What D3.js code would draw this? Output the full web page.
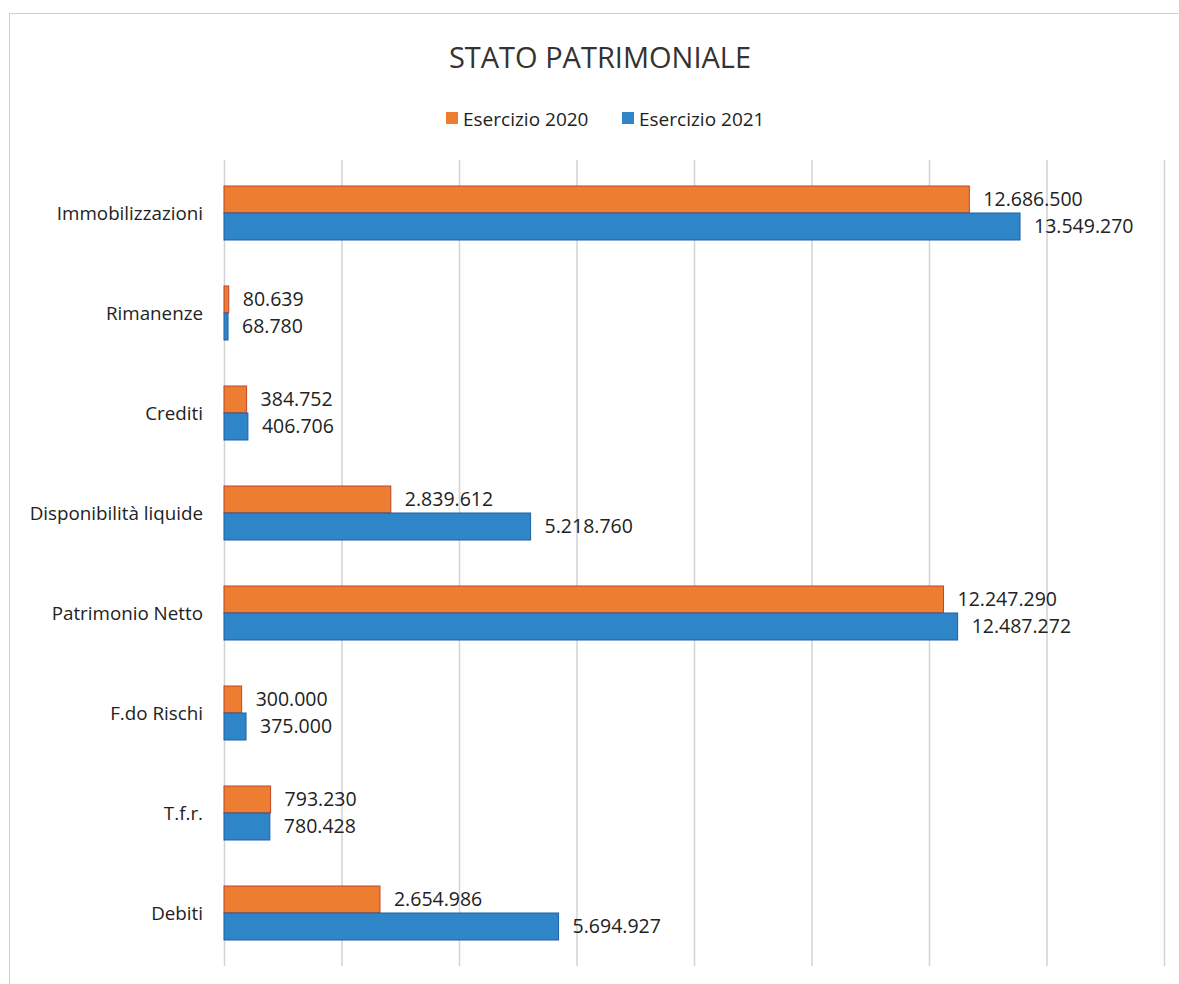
<!DOCTYPE html>
<html>
<head>
<meta charset="utf-8">
<script src="https://cdn.jsdelivr.net/npm/d3@7"></script>
<style>
  body { margin: 0; background: #fff; }
  svg text { font-family: "Open Sans", sans-serif; fill: #222; }
</style>
</head>
<body>
<div id="chart"></div>
<script>
const categories = ["Immobilizzazioni", "Rimanenze", "Crediti", "Disponibilità liquide", "Patrimonio Netto", "F.do Rischi", "T.f.r.", "Debiti"];
const series2020 = [12686500, 80639, 384752, 2839612, 12247290, 300000, 793230, 2654986];
const series2021 = [13549270, 68780, 406706, 5218760, 12487272, 375000, 780428, 5694927];
const seriesNames = ["Esercizio 2020", "Esercizio 2021"];
const gridTicks = [0, 2000000, 4000000, 6000000, 8000000, 10000000, 12000000, 14000000, 16000000];

const width = 1179, height = 984;
const colors = ["#ED7D31", "#2E86C8"];
const strokes = ["#C0442A", "#1F5FA8"];

const svg = d3.select("#chart").append("svg")
  .attr("width", width)
  .attr("height", height);

// outer frame
svg.append("rect")
  .attr("x", 9.5).attr("y", 13.5)
  .attr("width", width + 20).attr("height", height + 20)
  .attr("fill", "none").attr("stroke", "#d0d0d0");

const x = d3.scaleLinear().domain([0, 16000000]).range([224, 1164]);
const y = d3.scaleBand().domain(categories).range([163, 963]).paddingInner(0.46).paddingOuter(0.23);

const fmt = v => d3.format(",")(v).replace(/,/g, ".");

// gridlines
svg.append("g")
  .selectAll("line")
  .data(gridTicks)
  .join("line")
  .attr("x1", d => x(d) + 0.5).attr("x2", d => x(d) + 0.5)
  .attr("y1", 160).attr("y2", 966)
  .attr("stroke", "#d3d3d3").attr("stroke-width", 1.5);

// title
svg.append("text")
  .attr("x", 600).attr("y", 68)
  .attr("text-anchor", "middle")
  .style("font-size", "29px")
  .style("fill", "#333")
  .text("STATO PATRIMONIALE");

// legend
const legend = svg.append("g");
const legendX = [446, 622];
seriesNames.forEach((name, i) => {
  legend.append("rect")
    .attr("x", legendX[i]).attr("y", 112)
    .attr("width", 12).attr("height", 12)
    .attr("fill", colors[i]);
  legend.append("text")
    .attr("x", legendX[i] + 17).attr("y", 126)
    .style("font-size", "19px")
    .text(name);
});

// category labels
svg.append("g")
  .selectAll("text")
  .data(categories)
  .join("text")
  .attr("x", 203)
  .attr("y", d => y(d) + y.bandwidth() / 2)
  .attr("dy", "0.35em")
  .attr("text-anchor", "end")
  .style("font-size", "18.8px")
  .text(d => d);

const sub = d3.scaleBand().domain([0, 1]).range([0, y.bandwidth()]);

[series2020, series2021].forEach((vals, s) => {
  const g = svg.append("g");
  g.selectAll("rect")
    .data(vals)
    .join("rect")
    .attr("x", x(0))
    .attr("y", (d, i) => y(categories[i]) + sub(s))
    .attr("width", d => Math.max(x(d) - x(0), 2))
    .attr("height", sub.bandwidth())
    .attr("fill", colors[s])
    .attr("stroke", strokes[s])
    .attr("stroke-width", 1);
  g.selectAll("text")
    .data(vals)
    .join("text")
    .attr("x", d => Math.max(x(d), x(0) + 2) + 14)
    .attr("y", (d, i) => y(categories[i]) + sub(s) + sub.bandwidth() / 2)
    .attr("dy", "0.35em")
    .style("font-size", "19.5px")
    .text(d => fmt(d));
});
</script>
</body>
</html>
